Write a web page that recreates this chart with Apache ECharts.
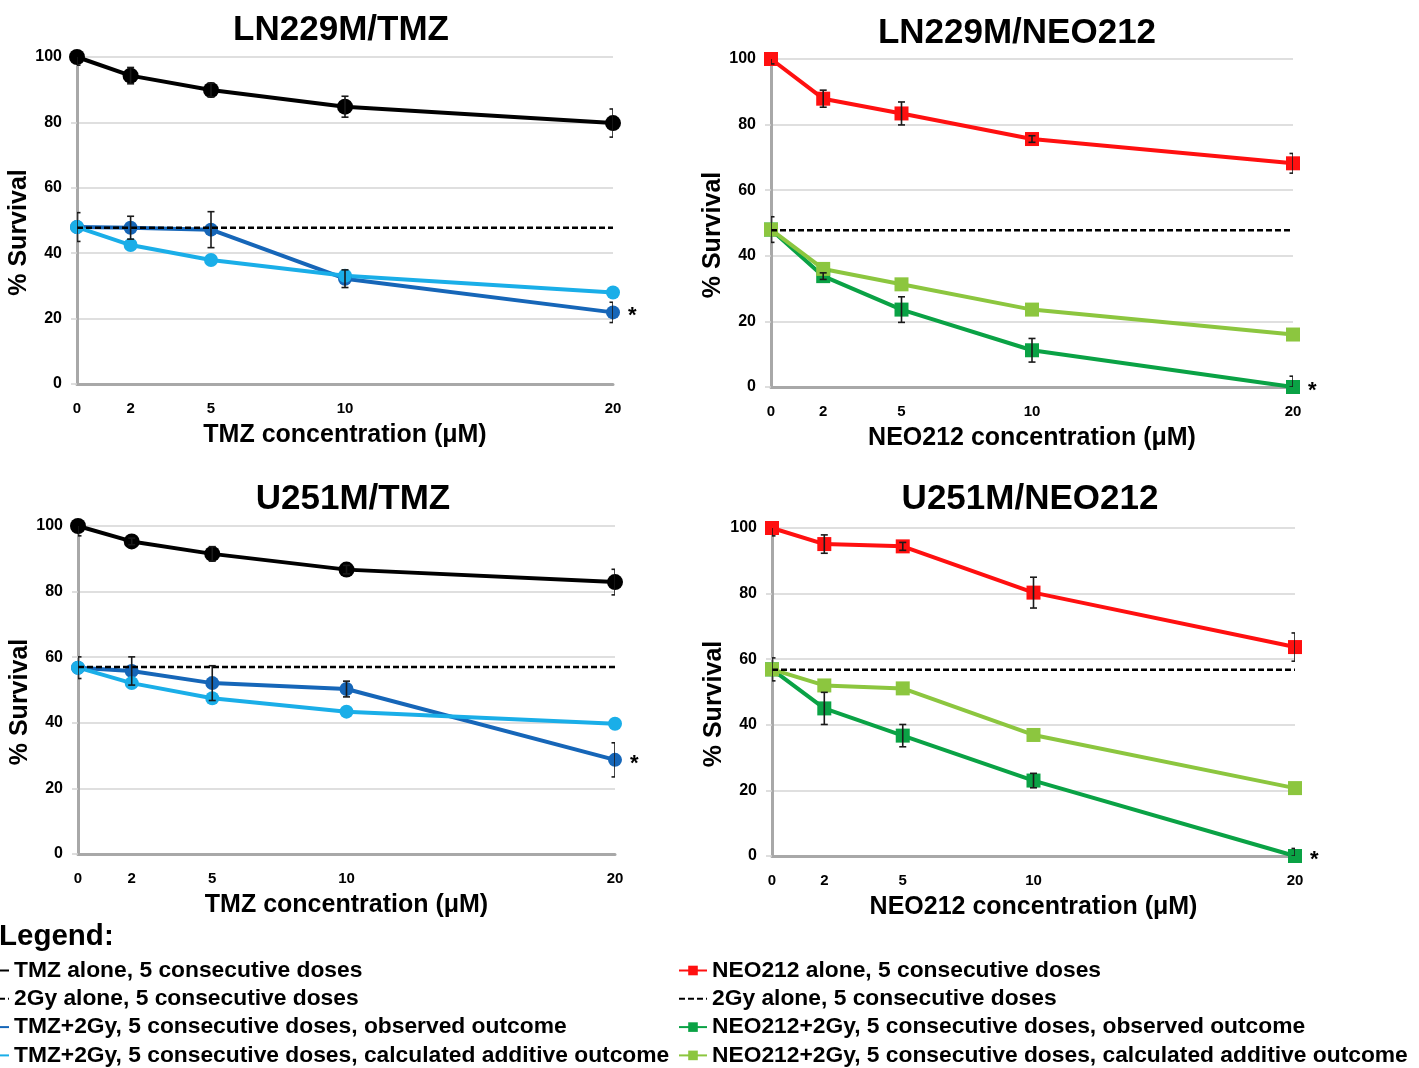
<!DOCTYPE html>
<html>
<head>
<meta charset="utf-8">
<script src="https://cdn.jsdelivr.net/npm/echarts@6/dist/echarts.min.js"></script>
<style>
html,body{margin:0;padding:0;background:#fff;}
#chart{width:1419px;height:1068px;}
</style>
</head>
<body>
<div id="chart"></div>
<script>
// ---------- data ----------
const conc = [0, 2, 5, 10, 20];
const xTicks = [0, 2, 5, 10, 20];
const yTicks = [0, 20, 40, 60, 80, 100];

const panelTitles = ['LN229M/TMZ', 'LN229M/NEO212', 'U251M/TMZ', 'U251M/NEO212'];
const xAxisTitles = ['TMZ concentration (μM)', 'NEO212 concentration (μM)', 'TMZ concentration (μM)', 'NEO212 concentration (μM)'];
const yAxisTitle = '% Survival';

const tmzNames = ['TMZ alone, 5 consecutive doses', '2Gy alone, 5 consecutive doses',
  'TMZ+2Gy, 5 consecutive doses, observed outcome', 'TMZ+2Gy, 5 consecutive doses, calculated additive outcome'];
const neoNames = ['NEO212 alone, 5 consecutive doses', '2Gy alone, 5 consecutive doses',
  'NEO212+2Gy, 5 consecutive doses, observed outcome', 'NEO212+2Gy, 5 consecutive doses, calculated additive outcome'];

// LN229M / TMZ
const ln229TmzAlone      = [100, 94.3, 89.9, 84.8, 79.8];
const ln229TmzAloneErr   = [2.5, 2.5, 2.1, 3.2, 4.3];
const ln229TmzObs        = [48, 47.8, 47.2, 32.2, 21.9];
const ln229TmzObsErr     = [4.4, 3.5, 5.5, 2.7, 3.1];
const ln229TmzCalc       = [48, 42.5, 37.9, 33.1, 28.0];
const ln229Gy            = 47.8;

// LN229M / NEO212
const ln229NeoAlone      = [100, 87.9, 83.4, 75.6, 68.2];
const ln229NeoAloneErr   = [1.5, 2.6, 3.5, 1.0, 3.0];
const ln229NeoObs        = [48, 33.8, 23.6, 11.2, 0];
const ln229NeoObsErr     = [3.9, 1.0, 3.9, 3.6, 3.3];
const ln229NeoCalc       = [48, 36.0, 31.3, 23.6, 16.0];
const ln229NeoGy         = 47.8;

// U251M / TMZ
const u251TmzAlone       = [100, 95.3, 91.5, 86.7, 82.9];
const u251TmzAloneErr    = [3.0, 1.0, 2.2, 1.3, 3.9];
const u251TmzObs         = [56.8, 55.8, 52.1, 50.3, 28.7];
const u251TmzObsErr      = [3.3, 4.3, 5.3, 2.4, 5.2];
const u251TmzCalc        = [56.8, 52.1, 47.5, 43.4, 39.7];
const u251Gy             = 57.0;

// U251M / NEO212
const u251NeoAlone       = [100, 95.1, 94.4, 80.3, 63.7];
const u251NeoAloneErr    = [2.4, 2.8, 1.2, 4.7, 4.3];
const u251NeoObs         = [56.9, 45.0, 36.7, 23.0, 0];
const u251NeoObsErr      = [3.5, 4.9, 3.4, 2.2, 2.3];
const u251NeoCalc        = [56.9, 52.0, 51.1, 36.9, 20.7];
const u251NeoGy          = 56.8;

// ---------- build ----------
const FONT = 'Liberation Sans';
const C = {
  black: '#000000', dblue: '#1666b8', lblue: '#1aaee8',
  red: '#ff1010', dgreen: '#0aa245', lgreen: '#8cc63f',
  grid: '#d4d4d4', axis: '#a8a8a8'
};

const grids = [
  {left: 77, top: 57, width: 536, height: 327},
  {left: 771, top: 59, width: 522, height: 328},
  {left: 78, top: 526, width: 537, height: 328},
  {left: 772, top: 528, width: 523, height: 328}
];

const panels = [
  {alone: ln229TmzAlone, aloneErr: ln229TmzAloneErr, obs: ln229TmzObs, obsErr: ln229TmzObsErr, calc: ln229TmzCalc, gy: ln229Gy, names: tmzNames,
   colors: [C.black, C.dblue, C.lblue], symbol: 'circle', sizes: [16, 14, 14]},
  {alone: ln229NeoAlone, aloneErr: ln229NeoAloneErr, obs: ln229NeoObs, obsErr: ln229NeoObsErr, calc: ln229NeoCalc, gy: ln229NeoGy, names: neoNames,
   colors: [C.red, C.dgreen, C.lgreen], symbol: 'rect', sizes: [14, 14, 14]},
  {alone: u251TmzAlone, aloneErr: u251TmzAloneErr, obs: u251TmzObs, obsErr: u251TmzObsErr, calc: u251TmzCalc, gy: u251Gy, names: tmzNames,
   colors: [C.black, C.dblue, C.lblue], symbol: 'circle', sizes: [16, 14, 14]},
  {alone: u251NeoAlone, aloneErr: u251NeoAloneErr, obs: u251NeoObs, obsErr: u251NeoObsErr, calc: u251NeoCalc, gy: u251NeoGy, names: neoNames,
   colors: [C.red, C.dgreen, C.lgreen], symbol: 'rect', sizes: [14, 14, 14]}
];

function pairs(vals) { return conc.map((c, i) => [c, vals[i]]); }
function errData(vals, errs) { return conc.map((c, i) => [c, Math.max(0, vals[i] - errs[i]), vals[i] + errs[i]]); }

function errRender(params, api) {
  const x = api.value(0);
  const lo = api.coord([x, api.value(1)]);
  const hi = api.coord([x, api.value(2)]);
  const w = 3.5;
  const st = {stroke: '#1a1a1a', lineWidth: 1.6};
  return {type: 'group', children: [
    {type: 'line', shape: {x1: hi[0], y1: hi[1], x2: lo[0], y2: lo[1]}, style: st},
    {type: 'line', shape: {x1: hi[0] - w, y1: hi[1], x2: hi[0] + w, y2: hi[1]}, style: st},
    {type: 'line', shape: {x1: lo[0] - w, y1: lo[1], x2: lo[0] + w, y2: lo[1]}, style: st}
  ]};
}

const xAxes = [], yAxes = [], series = [], titles = [];

panels.forEach((p, k) => {
  xAxes.push({
    gridIndex: k, type: 'value', min: 0, max: 20,
    name: xAxisTitles[k], nameLocation: 'middle', nameGap: 39,
    nameTextStyle: {fontFamily: FONT, fontSize: 25, fontWeight: 'bold', color: '#000'},
    axisLine: {show: true, lineStyle: {color: C.axis, width: 3}},
    axisTick: {show: false},
    splitLine: {show: false},
    axisLabel: {customValues: xTicks, fontFamily: FONT, fontSize: 15, fontWeight: 'bold', color: '#000', margin: 17}
  });
  yAxes.push({
    gridIndex: k, type: 'value', min: 0, max: 100, interval: 20,
    name: yAxisTitle, nameLocation: 'middle', nameGap: 43,
    nameTextStyle: {fontFamily: FONT, fontSize: 25, fontWeight: 'bold', color: '#000', padding: [0, 24, 0, 0]},
    axisLine: {show: true, lineStyle: {color: C.axis, width: 3}},
    axisTick: {show: true, length: 6, lineStyle: {color: C.grid, width: 1.5}},
    splitLine: {show: true, lineStyle: {color: C.grid, width: 1.5}},
    axisLabel: {fontFamily: FONT, fontSize: 16, fontWeight: 'bold', color: '#000', margin: 15}
  });

  const base = {type: 'line', xAxisIndex: k, yAxisIndex: k, symbol: p.symbol, animation: false, z: 3};
  // observed
  const obsData = pairs(p.obs).map((d, i) => i === conc.length - 1 ? {value: d, label: {show: true, formatter: '*', position: 'right', distance: 8,
    fontFamily: FONT, fontSize: 22, fontWeight: 'bold', color: '#000', offset: [0, 4]}} : d);
  series.push(Object.assign({}, base, {name: p.names[2], data: obsData, symbolSize: p.sizes[1],
    lineStyle: {color: p.colors[1], width: 4}, itemStyle: {color: p.colors[1]}}));
  // calculated additive
  series.push(Object.assign({}, base, {name: p.names[3], data: pairs(p.calc), symbolSize: p.sizes[2],
    lineStyle: {color: p.colors[2], width: 4}, itemStyle: {color: p.colors[2]}}));
  // 2Gy dashed reference
  series.push({type: 'line', xAxisIndex: k, yAxisIndex: k, name: p.names[1], animation: false, z: 4,
    data: [[0, p.gy], [20, p.gy]], symbol: 'none',
    lineStyle: {color: '#000', width: 2.5, type: [6, 3]}, itemStyle: {color: '#000'}});
  // alone
  series.push(Object.assign({}, base, {name: p.names[0], data: pairs(p.alone), symbolSize: p.sizes[0],
    lineStyle: {color: p.colors[0], width: 4}, itemStyle: {color: p.colors[0]}}));
  // error bars
  series.push({type: 'custom', xAxisIndex: k, yAxisIndex: k, renderItem: errRender, clip: true, z: 5, animation: false,
    data: errData(p.obs, p.obsErr), encode: {x: 0, y: [1, 2]}, silent: true});
  series.push({type: 'custom', xAxisIndex: k, yAxisIndex: k, renderItem: errRender, clip: true, z: 5, animation: false,
    data: errData(p.alone, p.aloneErr), encode: {x: 0, y: [1, 2]}, silent: true});
});

const titlePos = [[341, 13], [1017, 16], [353, 482], [1030, 482]];
panelTitles.forEach((t, k) => {
  titles.push({text: t, left: titlePos[k][0], top: titlePos[k][1], textAlign: 'center', padding: 0,
    textStyle: {fontFamily: FONT, fontSize: 35, fontWeight: 'bold', color: '#000'}});
});
titles.push({text: 'Legend:', left: -1, top: 922, padding: 0,
  textStyle: {fontFamily: FONT, fontSize: 29.5, fontWeight: 'bold', color: '#000'}});

const legendText = {fontFamily: FONT, fontSize: 22.8, fontWeight: 'bold', color: '#000', lineHeight: 22};
function legendData(names) {
  return names.map(n => n.indexOf('2Gy alone') === 0 ? {name: n, itemStyle: {opacity: 0}} : {name: n});
}
const legends = [
  {data: legendData(tmzNames), left: -20, top: 959, height: 160, orient: 'vertical', padding: 0, itemWidth: 28, itemHeight: 12, itemGap: 5.3,
   textStyle: legendText, selectedMode: false},
  {data: legendData(neoNames), left: 678, top: 959, height: 160, orient: 'vertical', padding: 0, itemWidth: 28, itemHeight: 12, itemGap: 5.3,
   textStyle: legendText, selectedMode: false}
];

const chart = echarts.init(document.getElementById('chart'), null, {renderer: 'canvas'});
chart.setOption({
  backgroundColor: '#fff',
  animation: false,
  title: titles,
  legend: legends,
  grid: grids,
  xAxis: xAxes,
  yAxis: yAxes,
  series: series
});
</script>
</body>
</html>
